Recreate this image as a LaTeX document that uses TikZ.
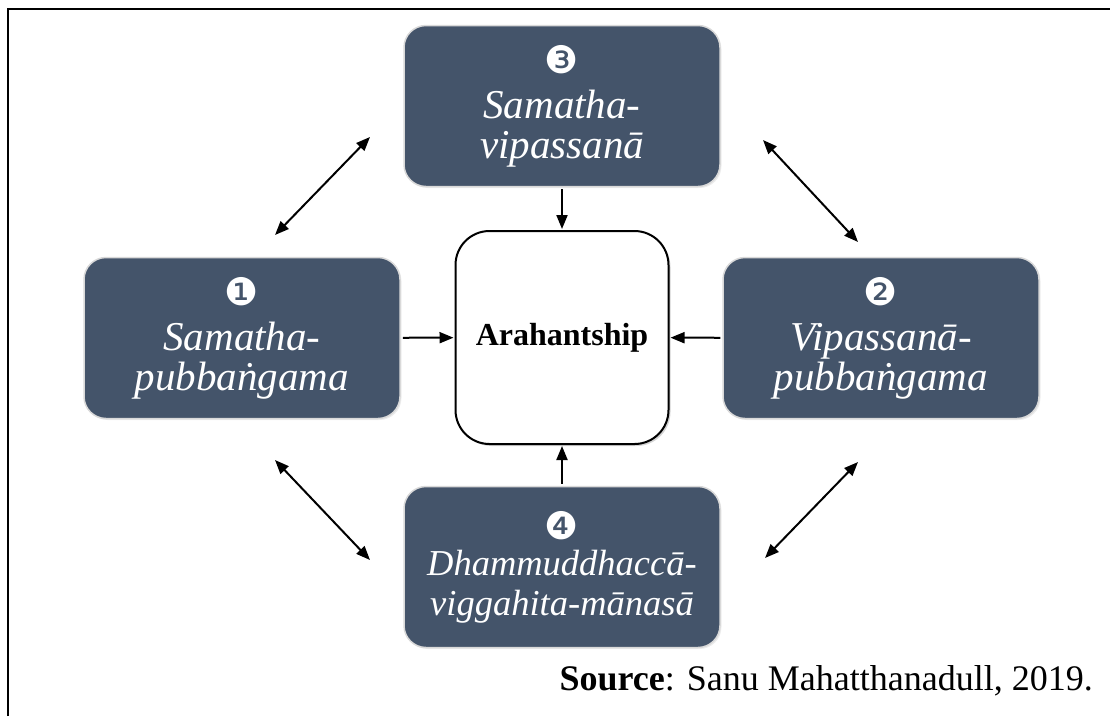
\documentclass[tikz,border=0pt]{standalone}
\usepackage{fontspec}
\setmainfont{Liberation Serif}
\newfontfamily\dejavu{DejaVu Sans}
\usetikzlibrary{arrows.meta,shadows}
\definecolor{boxblue}{HTML}{44546A}
\definecolor{boxedge}{HTML}{D9D9D9}
\newcommand{\stagenum}[1]{{\dejavu\fontsize{38}{38}\selectfont #1}}
\begin{document}
\begin{tikzpicture}[x=1pt,y=-1pt,
  stage/.style={draw=boxedge, line width=1.5pt, fill=boxblue, rounded corners=22pt,
    minimum width=316pt, minimum height=161pt, text=white, align=center, inner sep=0pt,
    font=\fontsize{41}{40}\selectfont\itshape,
    drop shadow={opacity=0.15, shadow xshift=1.5pt, shadow yshift=-1.5pt}},
  smallstage/.style={stage, font=\fontsize{36.5}{40}\selectfont\itshape},
  goal/.style={draw=black, line width=2pt, fill=white, rounded corners=34pt,
    minimum width=213pt, minimum height=213pt, inner sep=0pt,
    font=\fontsize{32}{36}\selectfont\bfseries,
    drop shadow={opacity=0.35, shadow xshift=2pt, shadow yshift=-2pt}},
  arr/.style={line width=2pt, -{Triangle[length=14pt,width=11pt]}},
  darr/.style={line width=2pt, {Triangle[length=14pt,width=11pt]}-{Triangle[length=14pt,width=11pt]}},
  frame/.style={line width=2.5pt, draw=black}
]
\useasboundingbox (0,0) rectangle (1110,716);
\draw[frame] (8,716) -- (8,9) -- (1110,9);

\node[goal] (goal) at (562,337.5) {Arahantship};

\node[stage] (s1) at (242,338) {\stagenum{❶}\\[5pt]Samatha-\\pubbaṅgama};
\node[stage] (s2) at (881,338) {\stagenum{❷}\\[5pt]Vipassanā-\\pubbaṅgama};
\node[stage] (s3) at (562,106) {\stagenum{❸}\\[5pt]Samatha-\\vipassanā};
\node[smallstage] (s4) at (562,567) {\stagenum{❹}\\[-4pt]Dhammuddhaccā-\\viggahita-mānasā};

\draw[arr, shorten <=2pt, shorten >=1pt] (s3) -- (goal);
\draw[arr, shorten <=2pt, shorten >=1pt] (s1) -- (goal);
\draw[arr, shorten <=2pt, shorten >=1pt] (s2) -- (goal);
\draw[arr, shorten <=2pt, shorten >=1pt] (s4) -- (goal);

\coordinate (d1a) at (275,235);
\coordinate (d1b) at (370,137);
\coordinate (d2a) at (763,140);
\coordinate (d2b) at (858,242);
\coordinate (d3a) at (275,460);
\coordinate (d3b) at (370,560);
\coordinate (d4a) at (858,462);
\coordinate (d4b) at (765,558);
\draw[darr] (d1a) -- (d1b);
\draw[darr] (d2a) -- (d2b);
\draw[darr] (d3a) -- (d3b);
\draw[darr] (d4a) -- (d4b);

\node[anchor=base east, font=\fontsize{36}{40}\selectfont, inner sep=0pt] (src) at (1093,690)
  {\textbf{Source}: Sanu Mahatthanadull, 2019.};
\end{tikzpicture}
\end{document}
